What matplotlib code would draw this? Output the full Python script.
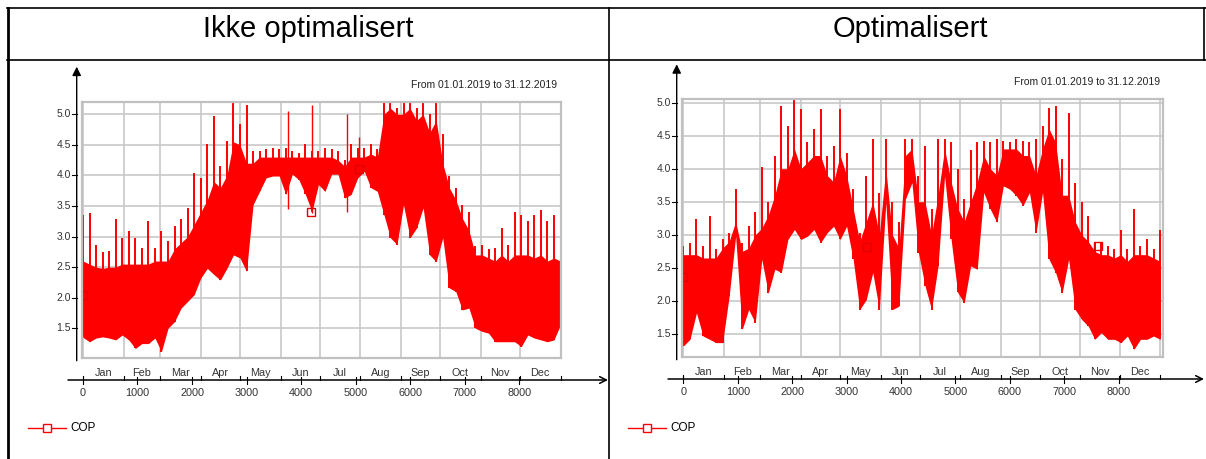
import numpy as np
import matplotlib
matplotlib.use("Agg")
import matplotlib.pyplot as plt
from matplotlib.lines import Line2D
from matplotlib.transforms import blended_transform_factory

plt.rcParams['font.family'] = ['Liberation Sans', 'DejaVu Sans']

# ---------------------------- data ----------------------------
hours = np.arange(0, 8761, 120)          # sample hour of year

months = ['Jan', 'Feb', 'Mar', 'Apr', 'May', 'Jun',
          'Jul', 'Aug', 'Sep', 'Oct', 'Nov', 'Dec']
month_days = [31, 28, 31, 30, 31, 30, 31, 31, 30, 31, 30, 31]
hour_ticks = [0, 1000, 2000, 3000, 4000, 5000, 6000, 7000, 8000]
cop_ticks = [1.5, 2.0, 2.5, 3.0, 3.5, 4.0, 4.5, 5.0]

# Ikke optimalisert: spike tops, top of the dense band, bottom
cop1_peak = [3.36, 3.39, 2.87, 2.75, 2.76, 3.28, 2.98, 3.09, 2.98, 2.81,
             3.25, 2.81, 3.09, 2.92, 3.17, 3.28, 3.47, 4.04, 3.96, 4.51,
             4.97, 4.15, 4.56, 5.20, 4.84, 5.16, 4.40, 4.40, 4.43, 4.45,
             4.43, 4.45, 4.40, 4.37, 4.51, 4.40, 4.40,
             4.45, 4.43, 4.40, 4.26, 4.51, 4.45, 4.45, 4.51, 4.43, 5.20,
             5.20, 5.11, 5.20, 5.20, 5.11, 5.20, 5.00, 5.20, 4.67, 3.99,
             3.80, 3.52, 3.41, 2.84, 2.87, 2.79, 2.81, 3.14, 2.87, 3.41,
             3.36, 3.25, 3.36, 3.44, 3.25, 3.36, 3.41]
cop1_band = [2.60, 2.55, 2.50, 2.48, 2.50, 2.50, 2.55, 2.55, 2.55, 2.55,
             2.55, 2.60, 2.60, 2.60, 2.80, 2.90, 3.00, 3.20, 3.40, 3.60,
             3.90, 3.80, 4.00, 4.55, 4.50, 4.20, 4.20, 4.30, 4.30, 4.30,
             4.30, 4.30, 4.30, 4.30, 4.30, 4.30, 4.30,
             4.30, 4.30, 4.25, 4.15, 4.30, 4.30, 4.30, 4.35, 4.30, 5.00,
             5.10, 5.00, 5.00, 5.10, 4.90, 5.00, 4.70, 4.90, 4.20, 3.80,
             3.60, 3.30, 3.10, 2.70, 2.70, 2.65, 2.60, 2.70, 2.60, 2.70,
             2.70, 2.70, 2.65, 2.70, 2.60, 2.65, 2.60]
cop1_low = [1.35, 1.28, 1.34, 1.36, 1.34, 1.31, 1.39, 1.31, 1.17, 1.25,
            1.25, 1.34, 1.12, 1.50, 1.61, 1.83, 1.94, 2.05, 2.32, 2.48,
            2.38, 2.29, 2.48, 2.70, 2.65, 2.43, 3.52, 3.74, 3.96, 3.99,
            3.99, 3.69, 4.02, 3.93, 3.69, 3.41, 3.85,
            3.74, 4.02, 4.02, 3.63, 3.69, 3.96, 4.07, 3.80, 3.74, 3.36,
            2.98, 2.87, 3.52, 2.98, 3.14, 3.47, 2.70, 2.59, 2.98, 2.16,
            2.10, 1.80, 1.83, 1.50, 1.45, 1.42, 1.28, 1.28, 1.28, 1.28,
            1.20, 1.39, 1.34, 1.31, 1.28, 1.31, 1.56]
spike1_h = [3770, 4200, 4850, 5060]
spike1_top = [5.05, 5.16, 5.01, 4.63]
spike1_low = [3.45, 3.38, 3.40, 4.00]
mark1_h = [0, 4190, 5060]
mark1_v = [2.04, 3.41, 4.11]

# Optimalisert
cop2_peak = [2.83, 2.88, 3.24, 2.83, 3.29, 2.78, 2.93, 3.03, 3.69, 2.88,
             3.14, 3.34, 4.02, 3.49, 4.19, 4.95, 4.65, 5.05, 4.90, 4.40,
             4.60, 4.90, 4.19, 4.35, 4.90, 4.24, 3.69, 3.03, 3.89, 4.45,
             3.64, 4.45, 3.49, 3.19, 4.45, 4.45, 3.89,
             4.35, 3.39, 4.45, 4.45, 4.40, 4.00, 3.54, 4.29, 4.40, 4.42,
             4.40, 4.45, 4.42, 4.40, 4.45, 4.42, 4.40, 4.45, 4.65, 4.92,
             4.95, 4.14, 4.85, 3.79, 3.49, 3.29, 2.88, 2.88, 2.83, 2.78,
             3.08, 2.78, 3.39, 2.83, 2.93, 2.78, 3.08]
cop2_band = [2.70, 2.70, 2.70, 2.65, 2.65, 2.65, 2.80, 2.90, 3.20, 2.75,
             2.80, 3.00, 3.10, 3.30, 3.60, 4.00, 4.00, 4.30, 4.00, 4.10,
             4.20, 4.20, 3.90, 3.80, 4.20, 3.90, 3.40, 2.90, 3.20, 3.50,
             3.00, 4.00, 3.00, 2.80, 4.20, 4.30, 3.50,
             3.50, 3.00, 3.60, 4.30, 3.80, 3.40, 3.20, 3.50, 3.80, 4.20,
             4.00, 3.90, 4.30, 4.30, 4.30, 4.20, 4.20, 3.90, 4.30, 4.60,
             4.40, 3.60, 3.60, 3.20, 3.00, 2.90, 2.75, 2.70, 2.70, 2.65,
             2.70, 2.60, 2.70, 2.70, 2.70, 2.65, 2.60]
cop2_low = [1.32, 1.42, 1.82, 1.47, 1.42, 1.37, 1.37, 2.07, 2.98, 1.57,
            1.87, 1.67, 2.63, 2.12, 2.48, 2.43, 2.93, 3.08, 2.93, 2.98,
            3.08, 2.88, 3.03, 3.13, 2.93, 3.13, 2.63, 1.87, 2.02, 2.43,
            1.87, 3.49, 1.87, 1.92, 3.54, 3.79, 2.73,
            2.23, 1.87, 2.53, 3.89, 2.93, 2.13, 1.97, 2.53, 2.48, 3.64,
            3.39, 3.19, 3.74, 3.69, 3.59, 3.44, 3.64, 3.03, 3.64, 2.63,
            2.43, 2.12, 2.63, 1.87, 1.72, 1.62, 1.42, 1.52, 1.42, 1.42,
            1.37, 1.47, 1.27, 1.42, 1.42, 1.47, 1.42]
spike2_h = []
spike2_top = []
spike2_low = []
mark2_h = [0, 3380, 7620]
mark2_v = [2.36, 2.82, 2.83]

# ---------------------------- figure ----------------------------
W, H = 1206, 459
fig = plt.figure(figsize=(W / 100, H / 100), dpi=100)


def fx(px):
    return px / W


def fy(py):
    return 1 - py / H


def fig_line(xs, ys, **kw):
    fig.add_artist(Line2D([fx(x) for x in xs], [fy(y) for y in ys], **kw))


month_edges = np.cumsum([0] + month_days) * 24
month_mids = (month_edges[:-1] + month_edges[1:]) / 2
label_col = '#333333'


def draw_panel(box, xlim, ylim, yaxis_x, xaxis_y, xaxis_span, peak, band, low,
               sp_h, sp_top, sp_low, mk_h, mk_v, from_xy, legend_x):
    left, top, right, bottom = box
    ax = fig.add_axes([fx(left), fy(bottom), (right - left) / W, (bottom - top) / H])

    # dense hourly COP: solid core plus the spikes
    ax.fill_between(hours, low, band, color='red', lw=0)
    ax.vlines(hours, low, peak, color='red', lw=1.4)
    ax.vlines(sp_h, sp_low, sp_top, color='red', lw=1)
    ax.plot(mk_h, mk_v, ls='none', marker='s', ms=6, mfc='none',
            mec='#e00000', mew=1)

    ax.set_xticks(month_edges)
    ax.set_yticks(cop_ticks)
    ax.grid(color='#c8c8c8', lw=1.2)
    ax.set_axisbelow(True)
    ax.tick_params(length=0, labelbottom=False, labelleft=False)
    for s in ax.spines.values():
        s.set_color('#c0c0c0')
        s.set_linewidth(1.6)

    # y axis drawn off the frame
    ty = blended_transform_factory(fig.transFigure, ax.transData)
    for v in cop_ticks:
        ax.plot([fx(yaxis_x - 5), fx(yaxis_x)], [v, v], color='black', lw=0.8,
                transform=ty, clip_on=False)
        ax.text(fx(yaxis_x - 6), v, f'{v:.1f}', transform=ty, ha='right',
                va='center', fontsize=7.5, color=label_col)
    ax.annotate('', xy=(fx(yaxis_x), fy(top - 35)), xytext=(fx(yaxis_x), fy(bottom + 3)),
                xycoords='figure fraction', annotation_clip=False,
                arrowprops=dict(arrowstyle='-|>', color='black', lw=1,
                                mutation_scale=13, shrinkA=0, shrinkB=0))

    # x axis line with month and hour ticks
    tx = blended_transform_factory(ax.transData, fig.transFigure)
    ax.annotate('', xy=(fx(xaxis_span[1]), fy(xaxis_y)),
                xytext=(fx(xaxis_span[0]), fy(xaxis_y)),
                xycoords='figure fraction', annotation_clip=False,
                arrowprops=dict(arrowstyle='->', color='black', lw=1.1,
                                mutation_scale=12, shrinkA=0, shrinkB=0))
    for e in month_edges:
        ax.plot([e, e], [fy(xaxis_y - 4), fy(xaxis_y)], color='black', lw=0.8,
                transform=tx, clip_on=False)
    for name, m in zip(months, month_mids):
        ax.text(m, fy(xaxis_y - 7), name, transform=tx, ha='center', va='center',
                fontsize=7.8, color=label_col)
    for h in hour_ticks:
        ax.plot([h, h], [fy(xaxis_y - 3), fy(xaxis_y + 4)], color='black', lw=0.8,
                transform=tx, clip_on=False)
        ax.text(h, fy(xaxis_y + 13), str(h), transform=tx, ha='center',
                va='center', fontsize=7.8, color=label_col)

    fig.text(fx(from_xy[0]), fy(from_xy[1]), 'From 01.01.2019 to 31.12.2019',
             ha='right', va='center', fontsize=7.5, color='#222222')

    # legend
    lx = legend_x
    fig_line([lx, lx + 38], [428, 428], color='red', lw=1)
    fig_line([lx + 19], [428], marker='s', ms=6, mfc='white', mec='red', mew=1)
    fig.text(fx(lx + 42), fy(428), 'COP', ha='left', va='center', fontsize=8.5)

    ax.set_xlim(xlim)
    ax.set_ylim(ylim)
    return ax


draw_panel((82, 101.7, 560.5, 357.7), (-18, 8760), (1.019, 5.206),
           76.7, 380, (68, 608), cop1_peak, cop1_band, cop1_low,
           spike1_h, spike1_top, spike1_low, mark1_h, mark1_v, (557, 85), 28)
draw_panel((682, 99.3, 1163, 356.7), (-26, 8814), (1.157, 5.05),
           676.7, 379, (668, 1204), cop2_peak, cop2_band, cop2_low,
           spike2_h, spike2_top, spike2_low, mark2_h, mark2_v, (1160, 82), 628)

# table frame around the two charts
fig_line([7, 1206], [8, 8], color='black', lw=1.2)
fig_line([7, 1206], [60, 60], color='black', lw=1.2)
fig_line([8, 8], [8, 459], color='black', lw=2)
fig_line([609, 609], [8, 459], color='black', lw=1.2)
fig_line([1204, 1204], [8, 60], color='black', lw=1.2)

fig.text(fx(308), fy(29), 'Ikke optimalisert', ha='center', va='center', fontsize=21)
fig.text(fx(910), fy(29), 'Optimalisert', ha='center', va='center', fontsize=21)

fig.savefig('out.png', dpi=100)
